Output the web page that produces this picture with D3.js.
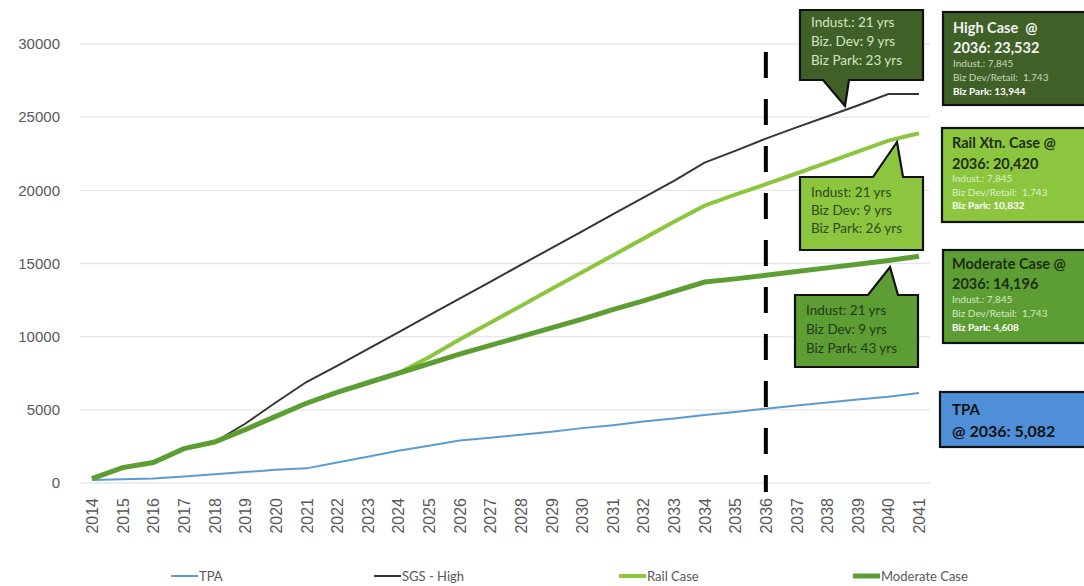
<!DOCTYPE html>
<html>
<head>
<meta charset="utf-8">
<script src="https://cdn.jsdelivr.net/npm/d3@7"></script>
<style>
  body { margin: 0; background: #fff; }
  svg { font-family: Lato, "Open Sans", sans-serif; }
  text { white-space: pre; }
</style>
</head>
<body>
<svg class="d3svg" width="1084" height="586"></svg>
<script>
// colours
var tpa_color = '#5b9bd5';
var high_color = '#33372d';
var rail_color = '#8cc63f';
var mod_color = '#5d9e34';
var axis_text = '#595959';

var years = d3.range(2014, 2042);
var yTicks = [0, 5000, 10000, 15000, 20000, 25000, 30000];

var tpa = [200, 250, 300, 450, 600, 750, 900, 1000, 1400, 1800, 2200, 2550, 2900, 3100,
  3300, 3500, 3750, 3950, 4200, 4400, 4650, 4850, 5082, 5300, 5500, 5700, 5900, 6150];
var high = [300, 1050, 1400, 2350, 2800, 4050, 5500, 6900, 8000, 9150, 10300, 11450, 12600, 13750,
  14900, 16050, 17200, 18350, 19500, 20650, 21900, 22700, 23532, 24300, 25050, 25800, 26580, 26580];
var rail = [300, 1050, 1400, 2350, 2800, 3650, 4550, 5450, 6200, 6850, 7500, 8600, 9800, 10950,
  12100, 13250, 14400, 15550, 16700, 17850, 18950, 19700, 20420, 21150, 21900, 22650, 23400, 23900];
var moderate = [300, 1050, 1400, 2350, 2800, 3650, 4550, 5450, 6200, 6850, 7500, 8150, 8800, 9400,
  10000, 10600, 11200, 11850, 12450, 13100, 13730, 13950, 14196, 14450, 14700, 14950, 15200, 15500];

var seriesNames = ['TPA', 'SGS - High', 'Rail Case', 'Moderate Case'];

var svg = d3.select(".d3svg");

var x = d3.scalePoint().domain(years).range([92, 919]);
var y = d3.scaleLinear().domain([0, 30000]).range([483, 44]);

// grid
svg.append("g")
  .selectAll("line")
  .data(yTicks)
  .enter()
  .append("line")
  .attr("x1", 80).attr("x2", 930)
  .attr("y1", function(d) { return y(d); })
  .attr("y2", function(d) { return y(d); })
  .attr("stroke", "#e6e6e6")
  .attr("stroke-width", 1.3);

// y axis labels
var yAxis = svg.append("g")
  .attr("transform", "translate(70,0)")
  .call(d3.axisLeft(y).tickValues(yTicks).tickSize(0).tickPadding(10).tickFormat(d3.format("d")));
yAxis.select(".domain").remove();
yAxis.selectAll("text")
  .attr("fill", axis_text)
  .style("font-size", "15px");

// x axis labels
var xAxis = svg.append("g")
  .attr("transform", "translate(0,490)")
  .call(d3.axisBottom(x).tickSize(0).tickPadding(0).tickFormat(function(d) { return String(d); }));
xAxis.select(".domain").remove();
xAxis.selectAll("text")
  .attr("fill", axis_text)
  .style("font-size", "16px")
  .attr("text-anchor", "end")
  .attr("transform", "rotate(-90)")
  .attr("x", -8)
  .attr("y", 0)
  .attr("dy", "0.35em");

var lineFunction = d3.line()
  .x(function(d, i) { return x(years[i]); })
  .y(function(d) { return y(d); });

// 2036 marker
svg.append("line")
  .attr("x1", x(2036)).attr("x2", x(2036))
  .attr("y1", 52).attr("y2", 492)
  .attr("stroke", "#000")
  .attr("stroke-width", 4)
  .attr("stroke-dasharray", "26,21");

svg.append("path")
  .attr("d", lineFunction(tpa))
  .attr("fill", "none")
  .attr("stroke", tpa_color)
  .attr("stroke-width", 2);

svg.append("path")
  .attr("d", lineFunction(high))
  .attr("fill", "none")
  .attr("stroke", high_color)
  .attr("stroke-width", 2);

svg.append("path")
  .attr("d", lineFunction(rail))
  .attr("fill", "none")
  .attr("stroke", rail_color)
  .attr("stroke-width", 4);

svg.append("path")
  .attr("d", lineFunction(moderate))
  .attr("fill", "none")
  .attr("stroke", mod_color)
  .attr("stroke-width", 5);

// callouts (box + pointer)
function callout(x0, y0, x1, y1, b0, b1, tip, fill, below) {
  var pts = below
    ? [[x0, y0], [x1, y0], [x1, y1], [b1, y1], tip, [b0, y1], [x0, y1]]
    : [[x0, y0], [b0, y0], tip, [b1, y0], [x1, y0], [x1, y1], [x0, y1]];
  svg.append("path")
    .attr("d", d3.line()(pts) + "Z")
    .attr("fill", fill)
    .attr("stroke", "#111")
    .attr("stroke-width", 2.2)
    .attr("stroke-linejoin", "miter");
}

function lines(list, x0, fill) {
  list.forEach(function(l) {
    svg.append("text")
      .attr("x", x0).attr("y", l[0])
      .attr("fill", l[3] || fill)
      .style("font-size", l[2] + "px")
      .style("font-weight", l[4] ? "bold" : "normal")
      .text(l[1]);
  });
}

callout(800, 10, 923, 80, 823, 849, [845, 106], '#3f6128', true);
lines([[27, "Indust.: 21 yrs", 13.5], [46, "Biz. Dev: 9 yrs", 13.5], [65, "Biz Park: 23 yrs", 13.5]], 811, '#d4e4c4');

callout(800, 177, 923, 250, 873, 903, [897, 142], '#8cc63f', false);
lines([[197, "Indust: 21 yrs", 13.5], [215, "Biz Dev: 9 yrs", 13.5], [233, "Biz Park: 26 yrs", 13.5]], 811, '#2f4a1a');

callout(795, 295, 918, 367, 868, 898, [890, 267], '#5d9e34', false);
lines([[315, "Indust: 21 yrs", 13.5], [334, "Biz Dev: 9 yrs", 13.5], [353, "Biz Park: 43 yrs", 13.5]], 806, '#243a14');

// info boxes
function box(x0, y0, x1, y1, fill) {
  svg.append("rect")
    .attr("x", x0).attr("y", y0)
    .attr("width", x1 - x0).attr("height", y1 - y0)
    .attr("fill", fill)
    .attr("stroke", "#111")
    .attr("stroke-width", 2.2);
}

box(943, 12, 1086, 105, '#3f6128');
lines([
  [33, "High Case  @", 14.5, '#f2f2f2', true],
  [53, "2036: 23,532", 14.5, '#f2f2f2', true],
  [67, "Indust.: 7,845", 10, '#c9d7bd'],
  [81, "Biz Dev/Retail:  1,743", 10, '#c9d7bd'],
  [95, "Biz Park: 13,944", 10, '#ffffff', true]
], 953, '#fff');

box(942, 128, 1086, 222, '#8cc63f');
lines([
  [148, "Rail Xtn. Case @", 14.5, '#1e2e12', true],
  [169, "2036: 20,420", 14.5, '#1e2e12', true],
  [182, "Indust.: 7,845", 10, '#dff0c8'],
  [196, "Biz Dev/Retail:  1,743", 10, '#dff0c8'],
  [209, "Biz Park: 10,832", 10, '#ffffff', true]
], 952, '#fff');

box(943, 250, 1086, 343, '#5d9e34');
lines([
  [269, "Moderate Case @", 14.5, '#1e2e12', true],
  [289, "2036: 14,196", 14.5, '#1e2e12', true],
  [303, "Indust.: 7,845", 10, '#d6e8c6'],
  [317, "Biz Dev/Retail:  1,743", 10, '#d6e8c6'],
  [331, "Biz Park: 4,608", 10, '#ffffff', true]
], 952, '#fff');

box(940, 392, 1086, 447, '#4f8fd8');
lines([
  [415, "TPA", 15, '#111', true],
  [437, "@ 2036: 5,082", 16, '#111', true]
], 952, '#111');

// legend
var legendColors = [tpa_color, high_color, rail_color, mod_color];
var legendWidths = [2, 2, 4, 5];
var legendX = [171, 374, 619, 853];
var legend = svg.append("g")
  .selectAll("g")
  .data(seriesNames)
  .enter()
  .append("g")
  .attr("transform", function(d, i) { return "translate(" + legendX[i] + ",576)"; });
legend.append("line")
  .attr("x1", 0).attr("x2", 27)
  .attr("stroke", function(d, i) { return legendColors[i]; })
  .attr("stroke-width", function(d, i) { return legendWidths[i]; });
legend.append("text")
  .attr("x", 28).attr("dy", "0.35em")
  .attr("fill", axis_text)
  .style("font-size", "13px")
  .text(function(d) { return d; });
</script>
</body>
</html>
